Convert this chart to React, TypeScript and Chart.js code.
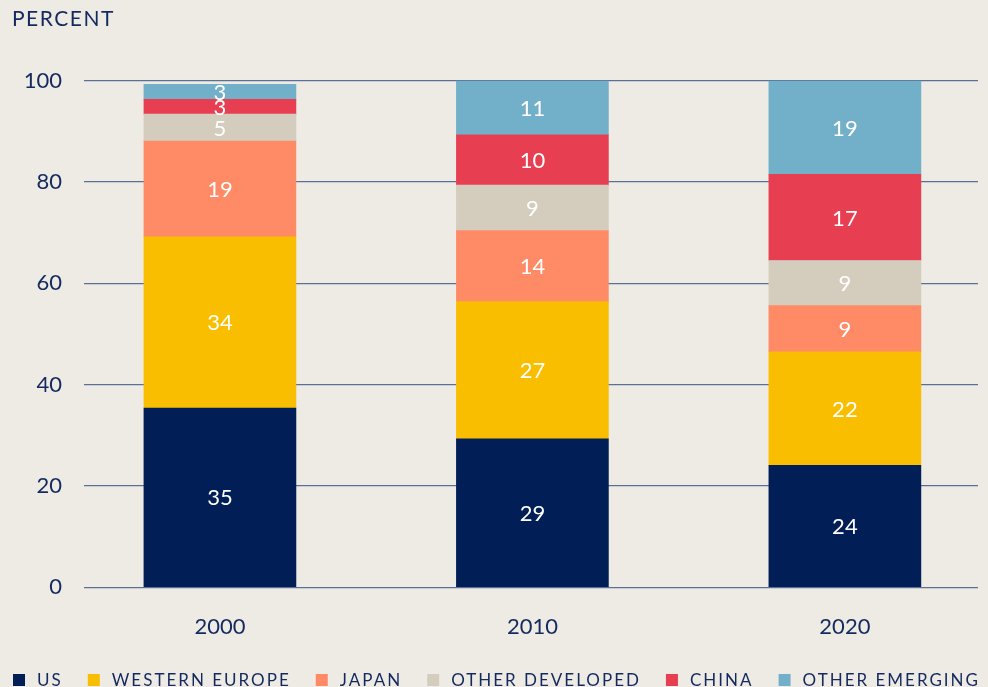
import React, { useEffect, useRef } from "react";
import { Chart, registerables } from "chart.js";

Chart.register(...registerables);

const years = ["2000", "2010", "2020"];
const seriesNames = ["US", "WESTERN EUROPE", "JAPAN", "OTHER DEVELOPED", "CHINA", "OTHER EMERGING"];
const us = [35.4, 29.3, 24.1];
const westernEurope = [33.8, 27.1, 22.4];
const japan = [18.9, 14.0, 9.1];
const otherDeveloped = [5.3, 9.0, 8.9];
const china = [2.9, 9.9, 17.0];
const otherEmerging = [3.0, 10.7, 18.5];
const yTicks = [0, 20, 40, 60, 80, 100];

const colors = ["#011E57", "#F9BE00", "#FF8A66", "#D4CDBE", "#E83E52", "#72B0C9"];
const BG = "#EEEBE5";
const TEXT = "#14295E";
const FONT = "Lato";

export default function App() {
  const ref = useRef<HTMLCanvasElement | null>(null);

  useEffect(() => {
    const canvas = ref.current;
    if (!canvas) return;
    const seriesValues = [us, westernEurope, japan, otherDeveloped, china, otherEmerging];

    const bgPlugin = {
      id: "bg",
      beforeDraw(chart: any) {
        const ctx = chart.ctx;
        ctx.save();
        ctx.fillStyle = BG;
        ctx.fillRect(0, 0, chart.width, chart.height);
        ctx.restore();
      },
    };

    const labelPlugin = {
      id: "segLabels",
      afterDatasetsDraw(chart: any) {
        const ctx = chart.ctx;
        ctx.save();
        ctx.fillStyle = "#FFFFFF";
        ctx.font = `22px ${FONT}`;
        ctx.textAlign = "center";
        ctx.textBaseline = "middle";
        chart.data.datasets.forEach((ds: any, di: number) => {
          const meta = chart.getDatasetMeta(di);
          meta.data.forEach((el: any, i: number) => {
            const v = ds.data[i].y;
            const cy = (el.y + el.base) / 2;
            ctx.fillText(String(Math.round(v)), el.x, cy + 1);
          });
        });
        ctx.restore();
      },
    };

    const textPlugin = {
      id: "extraText",
      afterDraw(chart: any) {
        const ctx = chart.ctx;
        ctx.save();
        ctx.fillStyle = TEXT;
        ctx.textBaseline = "alphabetic";
        ctx.textAlign = "left";
        ctx.font = `21px ${FONT}`;
        (ctx as any).letterSpacing = "1.5px";
        ctx.fillText("PERCENT", 12, 26);
        // legend
        ctx.font = `17px ${FONT}`;
        (ctx as any).letterSpacing = "2px";
        const left = 13;
        const right = 978;
        const box = 12;
        const gapBox = 12;
        const widths = seriesNames.map((n) => ctx.measureText(n).width - 2);
        const total = widths.reduce((a, b) => a + b + box + gapBox, 0);
        const gap = (right - left - total) / (seriesNames.length - 1);
        let x = left;
        seriesNames.forEach((n, i) => {
          ctx.fillStyle = colors[i];
          ctx.fillRect(x, 674, box, box);
          ctx.fillStyle = TEXT;
          ctx.fillText(n, x + box + gapBox, 686);
          x += box + gapBox + widths[i] + gap;
        });
        ctx.restore();
      },
    };

    const chart = new Chart(canvas, {
      type: "bar",
      data: {
        datasets: seriesValues.map((vals, si) => ({
          label: seriesNames[si],
          data: vals.map((v, i) => ({ x: i, y: v })),
          backgroundColor: colors[si],
          borderWidth: 0,
          barThickness: 152,
        })),
      },
      options: {
        responsive: false,
        animation: false,
        events: [],
        layout: { padding: { top: 80.7, right: 10, left: 0, bottom: 0 } },
        plugins: {
          legend: { display: false },
          tooltip: { enabled: false },
          title: { display: false },
        },
        scales: {
          x: {
            type: "linear",
            stacked: true,
            offset: false,
            min: -0.435,
            max: 2.426,
            grid: { display: false },
            border: { display: false },
            afterBuildTicks(scale: any) {
              scale.ticks = years.map((_, i) => ({ value: i }));
            },
            afterFit(scale: any) {
              scale.height = 99.7;
            },
            ticks: {
              autoSkip: false,
              maxRotation: 0,
              padding: 18,
              color: TEXT,
              font: { family: FONT, size: 22 },
              callback: (v: any) => years[v as number] ?? "",
            },
          },
          y: {
            stacked: true,
            min: 0,
            max: 100,
            afterBuildTicks(scale: any) {
              scale.ticks = yTicks.map((v) => ({ value: v }));
            },
            afterFit(scale: any) {
              scale.width = 84;
            },
            grid: { color: "#5C6F97", lineWidth: 1.2, drawTicks: false },
            border: { display: false },
            ticks: {
              padding: 22,
              color: TEXT,
              font: { family: FONT, size: 22 },
            },
          },
        },
      },
      plugins: [bgPlugin, labelPlugin, textPlugin],
    } as any);

    return () => chart.destroy();
  }, []);

  return (
    <div style={{ position: "fixed", left: 0, top: 0, width: 988, height: 687, background: BG }}>
      <canvas ref={ref} width={988} height={687} style={{ display: "block" }} />
    </div>
  );
}
